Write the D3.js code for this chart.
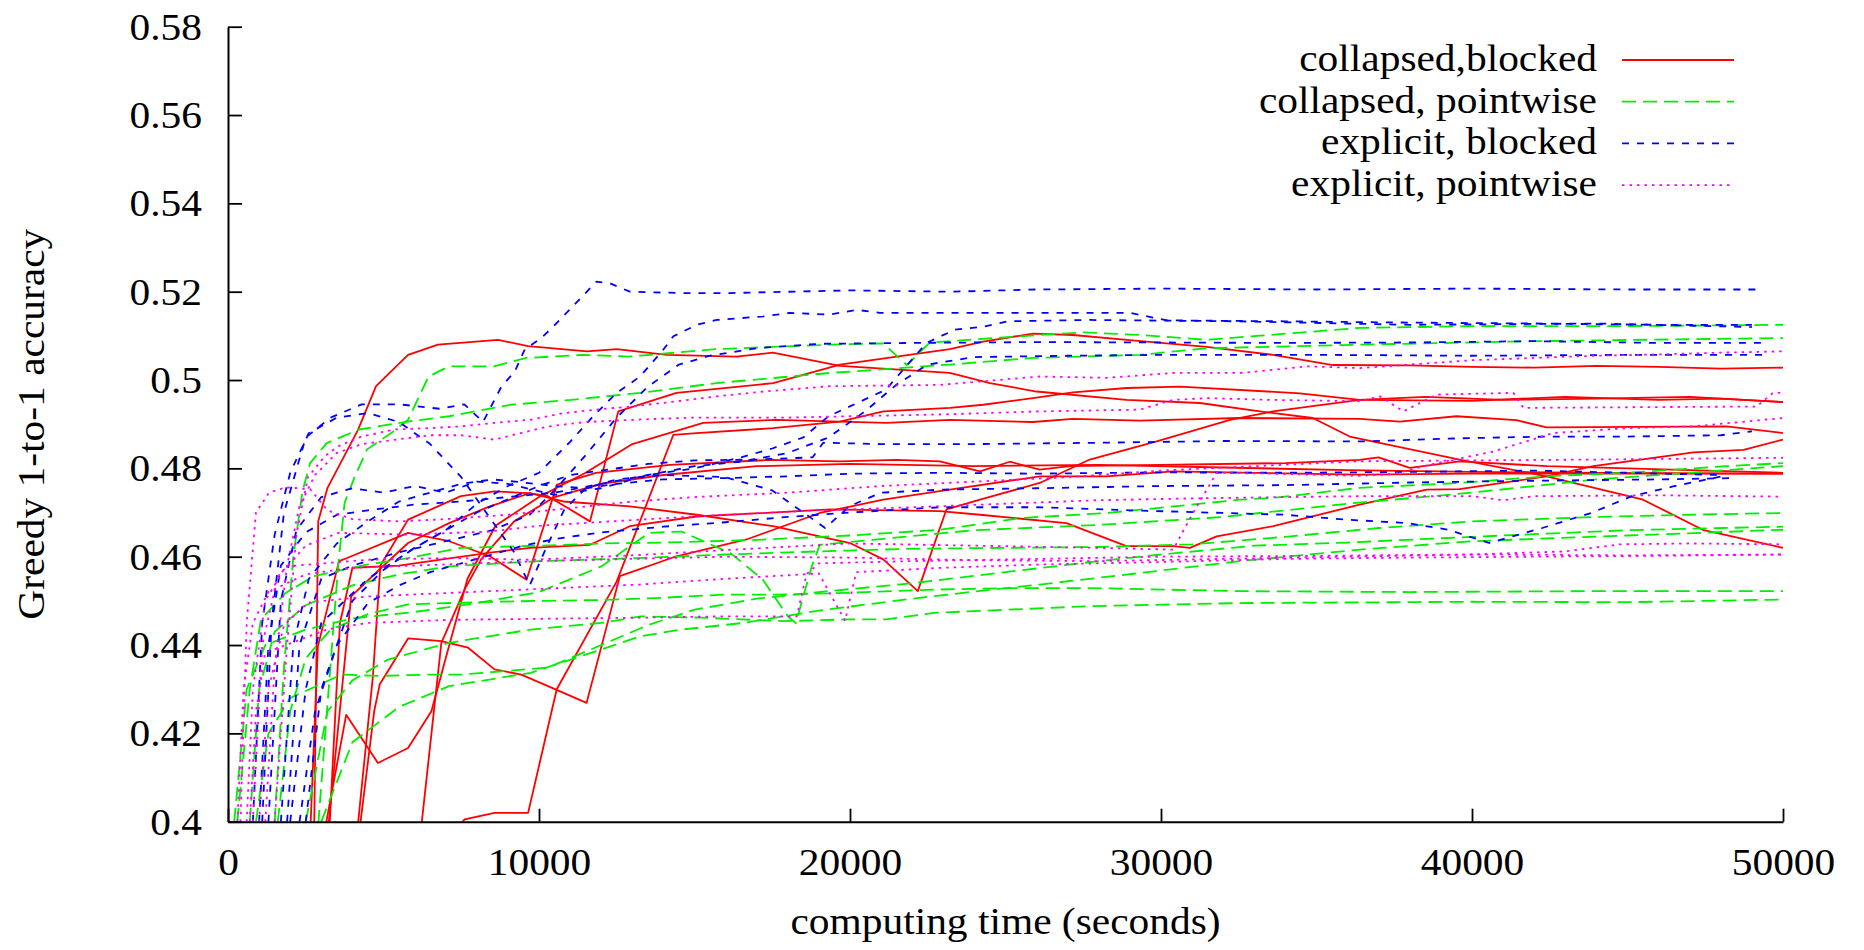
<!DOCTYPE html>
<html>
<head>
<meta charset="utf-8">
<script src="https://cdn.jsdelivr.net/npm/d3@7"></script>
<style>
  html, body { margin: 0; padding: 0; background: #fff; }
  svg text { font-family: "Liberation Serif", "Times New Roman", "DejaVu Serif", serif; fill: #000; }
</style>
</head>
<body>
<div id="chart"></div>
<script>
const xTicks = [0, 10000, 20000, 30000, 40000, 50000];
const yTicks = [0.4, 0.42, 0.44, 0.46, 0.48, 0.5, 0.52, 0.54, 0.56, 0.58];
const seriesNames = ["collapsed,blocked", "collapsed, pointwise", "explicit, blocked", "explicit, pointwise"];

// each run is a list of [seconds, accuracy]
const collapsedBlocked = [
  [[2700,0.36],[2900,0.468],[3200,0.4756],[4180,0.4887],[4760,0.4986],[5790,0.5057],[6750,0.508],[8680,0.5091],[9650,0.5077],[11540,0.5065],[12500,0.507],[14110,0.5057],[16360,0.5053],[17520,0.5062],[19680,0.5032],[23210,0.5016],[24500,0.4993],[26000,0.4974],[28890,0.4955],[31250,0.4948],[33180,0.4929],[34880,0.4914],[36070,0.4872],[39600,0.482],[42400,0.4782],[45500,0.4729],[47420,0.4661],[50000,0.462]],
  [[3900,0.38],[4660,0.433],[4900,0.458],[5790,0.4684],[7490,0.4737],[8570,0.4748],[9650,0.4744],[10290,0.4737],[11640,0.468],[12550,0.4929],[14420,0.4971],[17530,0.4993],[19680,0.5035],[23210,0.507],[24280,0.5087],[25880,0.5105],[27170,0.5102],[28900,0.5091],[31470,0.5075],[33600,0.5057],[35530,0.5034],[38000,0.5033],[40000,0.503],[42000,0.5028],[44000,0.5032],[46000,0.503],[48000,0.5026],[50000,0.5028]],
  [[7000,0.396],[7610,0.4005],[8570,0.402],[9650,0.402],[10570,0.43],[12500,0.4544],[14320,0.4876],[15070,0.488],[17530,0.4891],[19670,0.4906],[21070,0.4929],[23210,0.4937],[24280,0.4944],[25880,0.4959],[27170,0.4972],[28900,0.4982],[30610,0.4985],[34460,0.497],[36390,0.4955],[40000,0.4953],[43000,0.4962],[46000,0.4955],[48000,0.4958],[50000,0.495]],
  [[2900,0.39],[3800,0.4242],[4820,0.4133],[5790,0.4167],[6540,0.425],[7000,0.437],[7700,0.455],[8600,0.467],[10000,0.4735],[11500,0.479],[13000,0.4855],[15280,0.4903],[17640,0.491],[19680,0.4906],[21180,0.4903],[23210,0.491],[25880,0.4905],[27170,0.4912],[29320,0.4908],[32530,0.4914],[36390,0.4912],[37680,0.4906],[39500,0.4918],[41430,0.4909],[42400,0.4893],[48190,0.4895],[50000,0.488]],
  [[2600,0.39],[2890,0.4397],[3570,0.459],[3830,0.4597],[5790,0.4654],[7110,0.4635],[8420,0.4601],[9600,0.4548],[10580,0.4763],[11830,0.479],[14210,0.4808],[17430,0.4819],[19680,0.4816],[21500,0.4819],[22890,0.4816],[24180,0.4793],[25140,0.4815],[26100,0.4797],[27070,0.4805],[30000,0.4808],[34000,0.4812],[36390,0.4819],[37000,0.4825],[38000,0.4801],[39600,0.4816],[42400,0.4805],[50000,0.479]],
  [[3100,0.39],[3960,0.451],[4870,0.4571],[5790,0.4631],[7110,0.4676],[8420,0.4714],[9710,0.4744],[10780,0.4725],[12920,0.4714],[15070,0.4695],[17530,0.4669],[20000,0.4631],[21070,0.4594],[22180,0.4522],[23100,0.4707],[24180,0.4729],[26100,0.4767],[27710,0.482],[29860,0.4861],[32220,0.491],[33600,0.4929],[36390,0.4955],[38500,0.4962],[41000,0.4955],[44000,0.4958],[47000,0.4962],[50000,0.495]],
  [[4000,0.385],[4700,0.425],[4880,0.4311],[5790,0.4415],[6860,0.4409],[7720,0.4394],[8570,0.4345],[9430,0.4333],[10290,0.4307],[11530,0.4269],[12600,0.4556],[14420,0.4601],[16670,0.4639],[19030,0.4699],[21070,0.4729],[23210,0.4752],[26100,0.4782],[28250,0.4782],[30390,0.4793],[36390,0.4786],[40000,0.4788],[45000,0.4788],[50000,0.4788]],
  [[3200,0.39],[3600,0.445],[4000,0.4575],[5500,0.458],[7000,0.4595],[8500,0.461],[9710,0.462],[11640,0.4627],[12920,0.4669],[15070,0.4691],[19350,0.4707],[22890,0.4703],[24180,0.4695],[26960,0.4676],[28890,0.4624],[30390,0.4624],[30930,0.462],[31790,0.4646],[33610,0.4669],[36390,0.4718],[38540,0.4752],[39600,0.4753],[42400,0.4782],[43900,0.4805],[47120,0.4836],[48730,0.4842],[50000,0.4865]],
  [[6000,0.385],[6860,0.4405],[7610,0.4526],[8140,0.4594],[9200,0.468],[10500,0.4735],[12000,0.4765],[14000,0.4785],[17000,0.4805],[20000,0.481],[24000,0.4805],[28000,0.4808],[32000,0.4802],[36000,0.4796],[40000,0.4792],[44000,0.479],[50000,0.4788]]
];

const collapsedPointwise = [
  [[2800,0.39],[3540,0.4578],[3750,0.4722],[4070,0.478],[4470,0.4843],[5270,0.4881],[5790,0.491],[6450,0.5008],[7110,0.5031],[8550,0.5031],[9600,0.505],[11430,0.5057],[12880,0.5053],[15710,0.507],[19350,0.508],[21060,0.5083],[21830,0.5034],[22570,0.5085],[26100,0.5102],[27500,0.5108],[29320,0.5102],[31470,0.5091],[36390,0.5118],[40000,0.5122],[45000,0.5122],[50000,0.5125]],
  [[1500,0.40],[1800,0.435],[2100,0.46],[2400,0.475],[2640,0.4812],[3170,0.4857],[4210,0.4888],[5790,0.4906],[7110,0.4918],[9070,0.4944],[11030,0.4955],[13250,0.4971],[15710,0.4993],[19350,0.5016],[23210,0.5035],[25880,0.505],[29320,0.5057],[31470,0.5072],[36390,0.508],[42000,0.5088],[50000,0.5095]],
  [[300,0.40],[700,0.43],[1060,0.4458],[1850,0.4518],[2760,0.4556],[4470,0.4582],[5790,0.4597],[7490,0.462],[10000,0.4625],[12000,0.463],[14000,0.4632],[17000,0.4638],[20000,0.4648],[22890,0.4661],[25570,0.4688],[28250,0.4699],[29860,0.471],[32540,0.4729],[33610,0.4733],[36390,0.4756],[39600,0.4767],[42400,0.4782],[44970,0.479],[48190,0.4805],[50000,0.4812]],
  [[1600,0.40],[2000,0.425],[2500,0.437],[3300,0.4435],[4500,0.447],[5790,0.4492],[8000,0.4497],[10000,0.45],[12000,0.4502],[13960,0.4507],[15920,0.4514],[17600,0.4514],[19850,0.4518],[22460,0.4525],[25080,0.4529],[27710,0.4529],[32540,0.4522],[38000,0.452],[44000,0.4522],[50000,0.4522]],
  [[2500,0.40],[3200,0.425],[4000,0.432],[5140,0.4367],[7110,0.4405],[9730,0.4435],[12000,0.445],[13270,0.4465],[15240,0.4462],[17870,0.4454],[19850,0.4458],[21150,0.4458],[22720,0.4473],[25080,0.448],[27710,0.4488],[32540,0.4495],[40000,0.4498],[45000,0.4497],[50000,0.4503]],
  [[200,0.40],[600,0.43],[1200,0.44],[2500,0.4435],[4000,0.446],[6000,0.4475],[8000,0.4495],[10000,0.452],[12000,0.4578],[13540,0.4654],[14580,0.4657],[16160,0.4608],[17200,0.4548],[18000,0.4465],[18260,0.445],[18770,0.4578],[19030,0.4627],[21000,0.464],[24000,0.466],[28000,0.4672],[32000,0.469],[36000,0.472],[40000,0.4745],[44000,0.4775],[47000,0.479],[50000,0.4805]],
  [[900,0.40],[1300,0.42],[2000,0.428],[3650,0.4333],[4820,0.433],[6430,0.4333],[7500,0.4333],[10290,0.4349],[12000,0.44],[13500,0.4445],[15000,0.448],[17000,0.4505],[19000,0.452],[22000,0.454],[25000,0.4565],[28000,0.459],[30000,0.4605],[33000,0.4625],[36000,0.4632],[40000,0.4645],[45000,0.466],[50000,0.4668]],
  [[700,0.40],[1000,0.43],[1500,0.443],[2500,0.449],[4000,0.4535],[5500,0.456],[7110,0.4578],[10000,0.459],[13250,0.4597],[16000,0.4605],[19000,0.4612],[22000,0.4618],[25000,0.462],[28000,0.4622],[31000,0.4628],[34000,0.4645],[37000,0.4665],[40000,0.468],[44000,0.469],[47000,0.4695],[50000,0.4699]],
  [[3000,0.40],[4000,0.418],[5500,0.426],[7110,0.4307],[9730,0.4337],[12000,0.439],[13270,0.442],[14580,0.4435],[16560,0.445],[19000,0.4478],[22000,0.4505],[24500,0.4525],[26100,0.4537],[29320,0.4563],[32540,0.459],[36390,0.4616],[40000,0.4635],[45000,0.4648],[50000,0.4661]]
];

const explicitBlocked = [
  [[1100,0.40],[1400,0.445],[1800,0.47],[2500,0.487],[3300,0.4915],[4300,0.4945],[5500,0.4945],[6800,0.4935],[7600,0.4945],[8200,0.4905],[8790,0.4985],[9220,0.5019],[9540,0.5069],[10070,0.5095],[10460,0.5121],[11850,0.5223],[12280,0.5219],[12920,0.52],[14530,0.5197],[16140,0.5197],[20000,0.5203],[23210,0.52],[26000,0.5205],[30000,0.5207],[35000,0.5205],[40000,0.5207],[45000,0.5205],[49300,0.5205]],
  [[2500,0.40],[3000,0.43],[4000,0.45],[5000,0.457],[6000,0.462],[7000,0.466],[8000,0.472],[9000,0.476],[10000,0.479],[11000,0.486],[11740,0.4918],[12500,0.4971],[13250,0.5008],[14000,0.5069],[14320,0.5099],[15070,0.5125],[15710,0.5136],[17210,0.5144],[18070,0.5152],[19350,0.5148],[20210,0.5159],[20960,0.5152],[23210,0.5152],[26000,0.5152],[29000,0.5152],[30200,0.5135],[34000,0.5133],[38000,0.513],[42000,0.5128],[46000,0.5125],[49000,0.5125]],
  [[1300,0.40],[1700,0.45],[2200,0.466],[3000,0.4735],[4000,0.4755],[5000,0.4745],[6000,0.476],[7000,0.4745],[8000,0.477],[9000,0.4765],[10500,0.474],[12000,0.4755],[13500,0.4785],[15000,0.48],[16500,0.4825],[17500,0.4845],[18500,0.487],[19310,0.4918],[21150,0.4978],[22460,0.5084],[23370,0.5114],[24300,0.5121],[25080,0.5133],[27710,0.5136],[32430,0.5133],[38000,0.5125],[44000,0.5128],[49000,0.512]],
  [[1900,0.40],[2300,0.44],[3000,0.455],[4000,0.458],[5500,0.461],[7000,0.4635],[8500,0.466],[9700,0.4695],[10500,0.475],[11500,0.483],[12500,0.4915],[13500,0.4985],[14500,0.5035],[15500,0.5055],[17000,0.5072],[19000,0.5082],[22000,0.5084],[26000,0.5086],[30000,0.5085],[34000,0.5084],[38000,0.5085],[42000,0.5088],[46000,0.5084],[49500,0.5084]],
  [[1000,0.40],[1300,0.44],[1700,0.458],[2500,0.4655],[3500,0.4695],[4500,0.4705],[6000,0.4718],[7500,0.4725],[9000,0.4735],[10500,0.4745],[12000,0.4765],[13500,0.4785],[15000,0.4805],[16500,0.4815],[18000,0.4835],[19310,0.487],[20500,0.493],[21500,0.499],[22500,0.5035],[24000,0.5052],[27000,0.5055],[30000,0.5057],[35000,0.5057],[40000,0.5055],[45000,0.5057],[49500,0.5057]],
  [[2000,0.40],[2500,0.43],[3000,0.445],[4500,0.455],[6000,0.462],[7000,0.466],[8000,0.47],[9000,0.473],[10000,0.476],[11000,0.4785],[12000,0.4795],[13500,0.481],[15000,0.4818],[17000,0.482],[18800,0.4825],[19140,0.4858],[21000,0.4855],[24000,0.4855],[28000,0.4858],[32000,0.4862],[36400,0.4861],[39600,0.4868],[42400,0.4872],[45000,0.4872],[48000,0.4875],[49000,0.4884]],
  [[2300,0.40],[2800,0.425],[3500,0.44],[4500,0.4495],[5500,0.4535],[6500,0.4565],[7500,0.4585],[8500,0.4605],[9500,0.4625],[10500,0.464],[12000,0.4655],[14000,0.4668],[16000,0.4678],[18000,0.469],[20000,0.47],[22890,0.4712],[26000,0.4712],[29000,0.4705],[32020,0.4699],[33980,0.4695],[35950,0.4684],[37930,0.4676],[39240,0.4661],[40550,0.4631],[42260,0.4665],[43830,0.4699],[45140,0.4737],[46460,0.4759],[48030,0.4782]],
  [[1700,0.40],[2100,0.44],[2600,0.455],[3500,0.463],[4500,0.468],[5500,0.4725],[6500,0.4745],[7500,0.4765],[8500,0.4775],[9500,0.4768],[10500,0.476],[11500,0.4755],[12500,0.4765],[14000,0.4775],[16000,0.4778],[18000,0.4782],[20000,0.4788],[22890,0.479],[26000,0.4788],[30000,0.4791],[34000,0.479],[38000,0.4792],[42000,0.4795],[45000,0.479],[48000,0.4785]],
  [[800,0.40],[1100,0.445],[1500,0.465],[2000,0.479],[2600,0.488],[3500,0.4915],[4500,0.4925],[5500,0.4905],[6500,0.4855],[7500,0.478],[8500,0.468],[9200,0.461],[9700,0.4535],[10200,0.4615],[10800,0.4705],[11500,0.4755],[12500,0.4775],[14000,0.4785],[16000,0.478],[17500,0.475],[18500,0.47],[19200,0.4665],[20000,0.4715],[21000,0.4745],[23000,0.4752],[26000,0.4755],[30000,0.476],[34000,0.4762],[38000,0.4768],[42000,0.4772],[46000,0.4775],[48500,0.4778]]
];

const explicitPointwise = [
  [[1500,0.40],[1900,0.44],[2200,0.465],[2570,0.478],[3110,0.4827],[3540,0.485],[4290,0.4872],[5360,0.4888],[6430,0.4891],[7500,0.4895],[8570,0.4903],[9710,0.491],[10780,0.4925],[11850,0.4933],[12920,0.494],[13990,0.4948],[15710,0.4963],[17210,0.4974],[19350,0.4986],[22890,0.4989],[26100,0.5008],[28250,0.5005],[30390,0.5016],[32540,0.5016],[33610,0.5023],[34680,0.5031],[36390,0.5027],[38000,0.5035],[40000,0.5045],[42000,0.505],[44000,0.5055],[46000,0.5058],[48000,0.5062],[50000,0.5065]],
  [[1200,0.40],[1500,0.435],[1900,0.458],[2300,0.4715],[2800,0.4785],[3500,0.4835],[4300,0.4855],[5400,0.4865],[6500,0.4875],[7500,0.4875],[8570,0.4865],[9300,0.4878],[10300,0.4895],[11500,0.4905],[13000,0.491],[15000,0.4915],[18000,0.4915],[20000,0.4918],[22890,0.4922],[26100,0.4929],[29320,0.4933],[30390,0.4955],[31470,0.4959],[33610,0.4955],[36390,0.4952],[37040,0.4963],[37790,0.4929],[38860,0.4967],[41330,0.4971],[41650,0.4937],[49150,0.494],[49680,0.4971],[50000,0.4971]],
  [[600,0.40],[800,0.43],[1200,0.45],[1850,0.4578],[4470,0.4593],[7110,0.4597],[9730,0.4593],[13250,0.4604],[16000,0.4615],[20000,0.463],[24000,0.4625],[28000,0.462],[30390,0.4616],[31030,0.4699],[31790,0.479],[33600,0.4788],[36390,0.4783],[37460,0.4787],[38860,0.4812],[40680,0.4838],[42610,0.488],[44970,0.4891],[47110,0.4895],[50000,0.4914]],
  [[800,0.40],[1100,0.44],[1600,0.4555],[2500,0.4625],[3560,0.4654],[5790,0.465],[8420,0.4657],[10000,0.467],[13250,0.4684],[16000,0.4695],[19000,0.4705],[22000,0.4712],[25000,0.472],[28000,0.4728],[31000,0.4732],[34000,0.4735],[36390,0.4737],[38000,0.4737],[40000,0.4737],[41000,0.4728],[42000,0.4737],[46000,0.4739],[50000,0.4736]],
  [[700,0.40],[900,0.425],[1190,0.4382],[3170,0.4435],[4470,0.445],[7110,0.4457],[13250,0.4462],[16000,0.4465],[18290,0.4465],[18600,0.456],[19000,0.4585],[22000,0.459],[26000,0.4595],[30000,0.46],[35000,0.4602],[40000,0.4605],[45000,0.4603],[50000,0.4605]],
  [[1000,0.40],[1300,0.43],[1800,0.4445],[2570,0.4496],[4470,0.451],[7110,0.4518],[13250,0.4537],[16000,0.455],[19000,0.4562],[19840,0.4455],[20200,0.4565],[23000,0.4575],[26000,0.4582],[30000,0.4588],[34000,0.4595],[38000,0.4598],[42000,0.46],[46000,0.4602],[50000,0.4605]],
  [[400,0.40],[600,0.445],[900,0.47],[1320,0.4745],[1850,0.4757],[2640,0.4753],[3200,0.4705],[4000,0.4685],[5500,0.468],[7000,0.4685],[9000,0.4695],[11000,0.471],[13000,0.4725],[15000,0.4735],[18000,0.4745],[21000,0.476],[24000,0.477],[27000,0.478],[30000,0.4795],[33000,0.4805],[36390,0.4816],[40000,0.4818],[44000,0.482],[47000,0.4822],[50000,0.4824]],
  [[300,0.40],[500,0.43],[800,0.445],[1300,0.452],[2500,0.456],[4000,0.4575],[6000,0.458],[8000,0.4585],[10000,0.459],[13000,0.4595],[16000,0.46],[20000,0.4598],[24000,0.4592],[28000,0.459],[32000,0.4595],[36000,0.46],[40000,0.4605],[43000,0.4612],[44750,0.4628],[47000,0.463],[50000,0.4628]]
];

const width = 1864;
const height = 950;
const margin = { top: 26.7, right: 81, bottom: 128.3, left: 228 };
const fontSize = 38;
const stretch = 1.09; // the original lettering is a little wider than Times

const styles = [
  { color: "#ff0000", dash: null },
  { color: "#00ee00", dash: "14,7" },
  { color: "#0000ff", dash: "7,8" },
  { color: "#ff00ff", dash: "2.5,5" },
];
const allRuns = [collapsedBlocked, collapsedPointwise, explicitBlocked, explicitPointwise];

const svg = d3
  .select("#chart")
  .append("svg")
  .attr("width", width)
  .attr("height", height);

const x = d3.scaleLinear().domain([0, 50000]).range([margin.left, width - margin.right]);
const y = d3.scaleLinear().domain([0.4, 0.58]).range([height - margin.bottom, margin.top]);

svg
  .append("clipPath")
  .attr("id", "plot-clip")
  .append("rect")
  .attr("x", x(0))
  .attr("y", y(0.58))
  .attr("width", x(50000) - x(0))
  .attr("height", y(0.4) - y(0.58));

const line = d3
  .line()
  .x((d) => x(d[0]))
  .y((d) => y(d[1]));

const plot = svg.append("g").attr("clip-path", "url(#plot-clip)");

allRuns.forEach((runs, i) => {
  plot
    .append("g")
    .selectAll("path")
    .data(runs)
    .enter()
    .append("path")
    .attr("d", line)
    .attr("fill", "none")
    .attr("stroke", styles[i].color)
    .attr("stroke-width", 1.8)
    .attr("stroke-dasharray", styles[i].dash)
    .attr("stroke-linejoin", "round");
});

// axes: only left and bottom borders, ticks pointing inwards
const xAxis = svg
  .append("g")
  .attr("transform", `translate(0,${y(0.4)})`)
  .call(d3.axisBottom(x).tickValues(xTicks).tickSize(-13).tickSizeOuter(0).tickFormat(d3.format("d")));
xAxis.selectAll("text").attr("dy", null).attr("y", 53);

const yAxis = svg
  .append("g")
  .attr("transform", `translate(${x(0)},0)`)
  .call(
    d3
      .axisLeft(y)
      .tickValues(yTicks)
      .tickSize(-14)
      .tickSizeOuter(0)
      .tickPadding(26)
      .tickFormat((d) => String(+d.toFixed(2)))
  );
yAxis.selectAll("text").attr("x", -26 / stretch).attr("dy", "0.33em");

svg.selectAll(".tick line").attr("stroke", "#000").attr("stroke-width", 1.8);
svg.selectAll(".domain").attr("stroke", "#000").attr("stroke-width", 2);
svg
  .selectAll(".tick text")
  .attr("font-size", fontSize)
  .attr("font-family", null)
  .attr("transform", `scale(${stretch},1)`);

svg
  .append("text")
  .attr("transform", `translate(${(x(0) + x(50000)) / 2},934) scale(${stretch},1)`)
  .attr("text-anchor", "middle")
  .attr("font-size", fontSize)
  .text("computing time (seconds)");

svg
  .append("text")
  .attr("transform", `translate(44,${(y(0.4) + y(0.58)) / 2}) rotate(-90) scale(${stretch},1)`)
  .attr("text-anchor", "middle")
  .attr("font-size", fontSize)
  .text("Greedy 1-to-1 accuracy");

// legend
const legend = svg
  .append("g")
  .selectAll("g")
  .data(seriesNames)
  .enter()
  .append("g")
  .attr("transform", (d, i) => `translate(0,${60 + i * 41.7})`);

legend
  .append("text")
  .attr("transform", `translate(1597,11) scale(${stretch},1)`)
  .attr("text-anchor", "end")
  .attr("font-size", fontSize)
  .text((d) => d);

legend
  .append("line")
  .attr("x1", 1622)
  .attr("x2", (d, i) => (i === 3 ? 1730 : 1734))
  .attr("stroke", (d, i) => styles[i].color)
  .attr("stroke-width", 1.8)
  .attr("stroke-dasharray", (d, i) => styles[i].dash);
</script>
</body>
</html>
